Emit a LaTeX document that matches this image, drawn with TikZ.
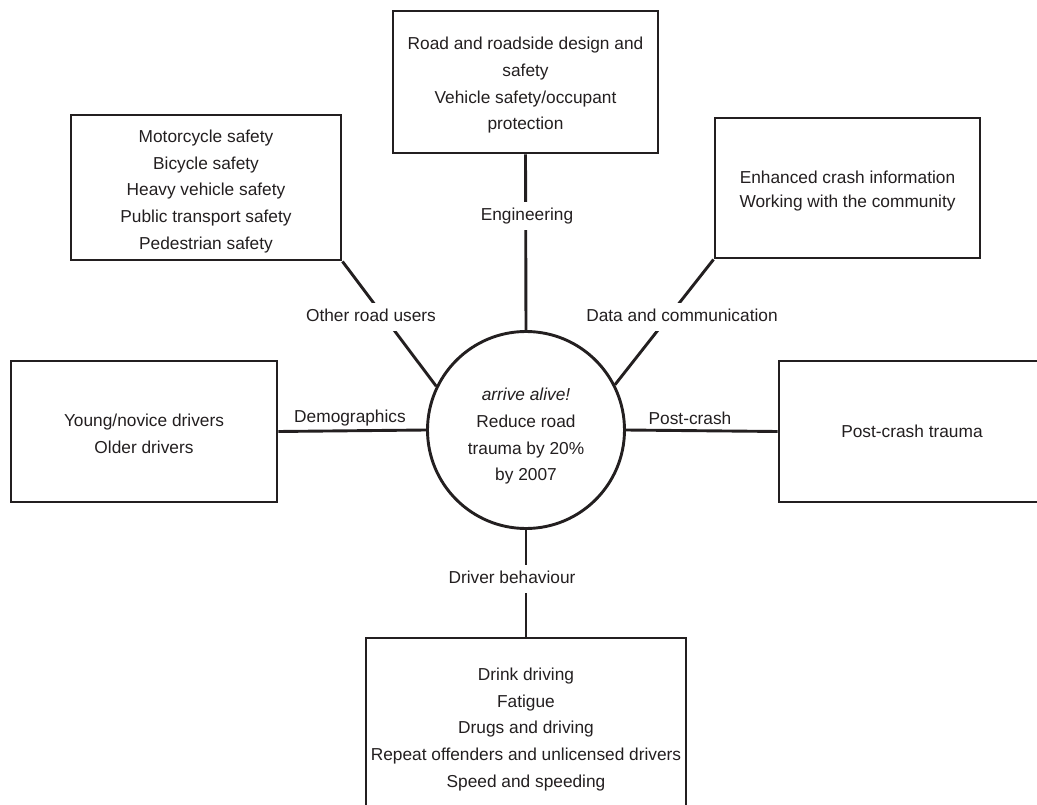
\documentclass[tikz,border=0pt]{standalone}
\usepackage{fontspec}
\setmainfont{Liberation Sans}
\definecolor{ink}{RGB}{35,31,32}
\newcommand\topgap[1]{\rule{0pt}{#1}}
\begin{document}
\begin{tikzpicture}[x=1pt,y=-1pt,
  every node/.style={text=ink, font=\fontsize{17.3}{26.7}\selectfont},
  boxnode/.style={draw=ink, line width=2.9pt, rectangle, align=center, inner sep=0pt},
  hub/.style={draw=ink, line width=2.9pt, circle, minimum size=197pt, align=center, inner sep=0pt},
  conn/.style={draw=ink, line width=2.9pt},
  lbl/.style={fill=white, inner xsep=1pt, inner ysep=6pt, text height=12.5pt, text depth=3.6pt},
  side/.style={inner sep=0pt}]
\useasboundingbox (0,0) rectangle (1037,805);
\clip (0,0) rectangle (1037,805);
\fill[white] (0,0) rectangle (1037,805);

\node[boxnode, minimum width=265pt, minimum height=142pt] (eng) at (525.5,82)
  {\topgap{19pt}Road and roadside design and\\safety\\Vehicle safety/occupant\\protection};
\node[boxnode, minimum width=270pt, minimum height=145pt] (oru) at (206,187.5)
  {\topgap{20pt}Motorcycle safety\\Bicycle safety\\Heavy vehicle safety\\Public transport safety\\Pedestrian safety};
\node[boxnode, minimum width=265pt, minimum height=140pt, font=\fontsize{17.3}{24.5}\selectfont] (dc) at (847.5,188)
  {\topgap{19pt}Enhanced crash information\\Working with the community};
\node[boxnode, minimum width=266pt, minimum height=141pt] (demo) at (144,431.5)
  {\topgap{17pt}Young/novice drivers\\Older drivers};
\node[boxnode, minimum width=266pt, minimum height=141pt] (pc) at (912,431.5)
  {Post-crash trauma};
\node[boxnode, minimum width=320pt, minimum height=178pt] (db) at (526,727)
  {\topgap{17pt}Drink driving\\Fatigue\\Drugs and driving\\Repeat offenders and unlicensed drivers\\Speed and speeding};
\node[hub] (hub) at (526,430)
  {\topgap{25pt}\textit{arrive alive!}\\Reduce road\\trauma by 20\%\\by 2007};

\draw[conn] (eng.south) -- (hub.north);
\draw[conn] (oru.south east) -- (hub.154);
\draw[conn] (dc.south west) -- (hub.27);
\draw[conn] (demo.east) -- (hub.west);
\draw[conn] (pc.west) -- (hub.east);
\draw[conn] (db.north) -- (hub.south);

\node[lbl] (l1) at (527,216) {Engineering};
\node[lbl] (l2) at (371,317) {Other road users};
\node[lbl] (l3) at (682,317) {Data and communication};
\node[side] (l4) at (350,418) {Demographics};
\node[side] (l5) at (690,418) {Post-crash};
\node[lbl] (l6) at (512,579) {Driver behaviour};
\end{tikzpicture}
\end{document}
